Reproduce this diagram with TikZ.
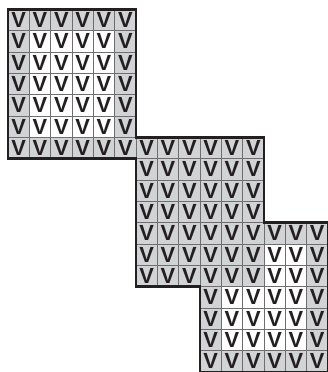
\documentclass[tikz,border=0pt]{standalone}
\usepackage{fontspec}
\newfontfamily\cellfont{Liberation Sans}
\usetikzlibrary{backgrounds}

\definecolor{cellgray}{HTML}{D2D3D5}
\definecolor{gridline}{HTML}{6E6E70}
\definecolor{edgeline}{HTML}{231F20}

\begin{document}
\begin{tikzpicture}[
  x=0.6cm, y=-0.6cm,
  vcell/.style = {
    rectangle, minimum size=0.6cm, inner sep=0pt,
    draw=gridline, line width=0.6pt,
    font=\cellfont\bfseries\fontsize{17.5}{17.5}\selectfont,
    text=edgeline
  },
  outline/.style = {draw=edgeline, line width=2.2pt, line join=miter}
]
\useasboundingbox (-0.375,-0.44) rectangle (15,17);
%--- FUNDO: CINZA E BRANCO ---
\fill[cellgray] (0,0) -| (6,6) -| (12,10) -| (15,17) -| (9,13) -| (6,7) -| (0,0) -- cycle;
\fill[white] (1,1) rectangle (5,6);
\fill[white] (12,11) rectangle (14,13);
\fill[white] (10,13) rectangle (14,16);
%--- CASAS COM V ---
\foreach \r/\from/\to in {0/0/5, 1/0/5, 2/0/5, 3/0/5, 4/0/5, 5/0/5, 6/0/11,
                          7/6/11, 8/6/11, 9/6/11, 10/6/14, 11/6/14, 12/6/14,
                          13/9/14, 14/9/14, 15/9/14, 16/9/14}
  \foreach \c in {\from,...,\to}
    \node[vcell] (v-\c-\r) at (\c+0.5,\r+0.5) {V};
%--- CONTORNO ---
\draw[outline] (0,0) -| (6,6) -| (12,10) -| (15,17) -| (9,13) -| (6,7) -| (0,0) -- cycle;
\end{tikzpicture}
\end{document}
